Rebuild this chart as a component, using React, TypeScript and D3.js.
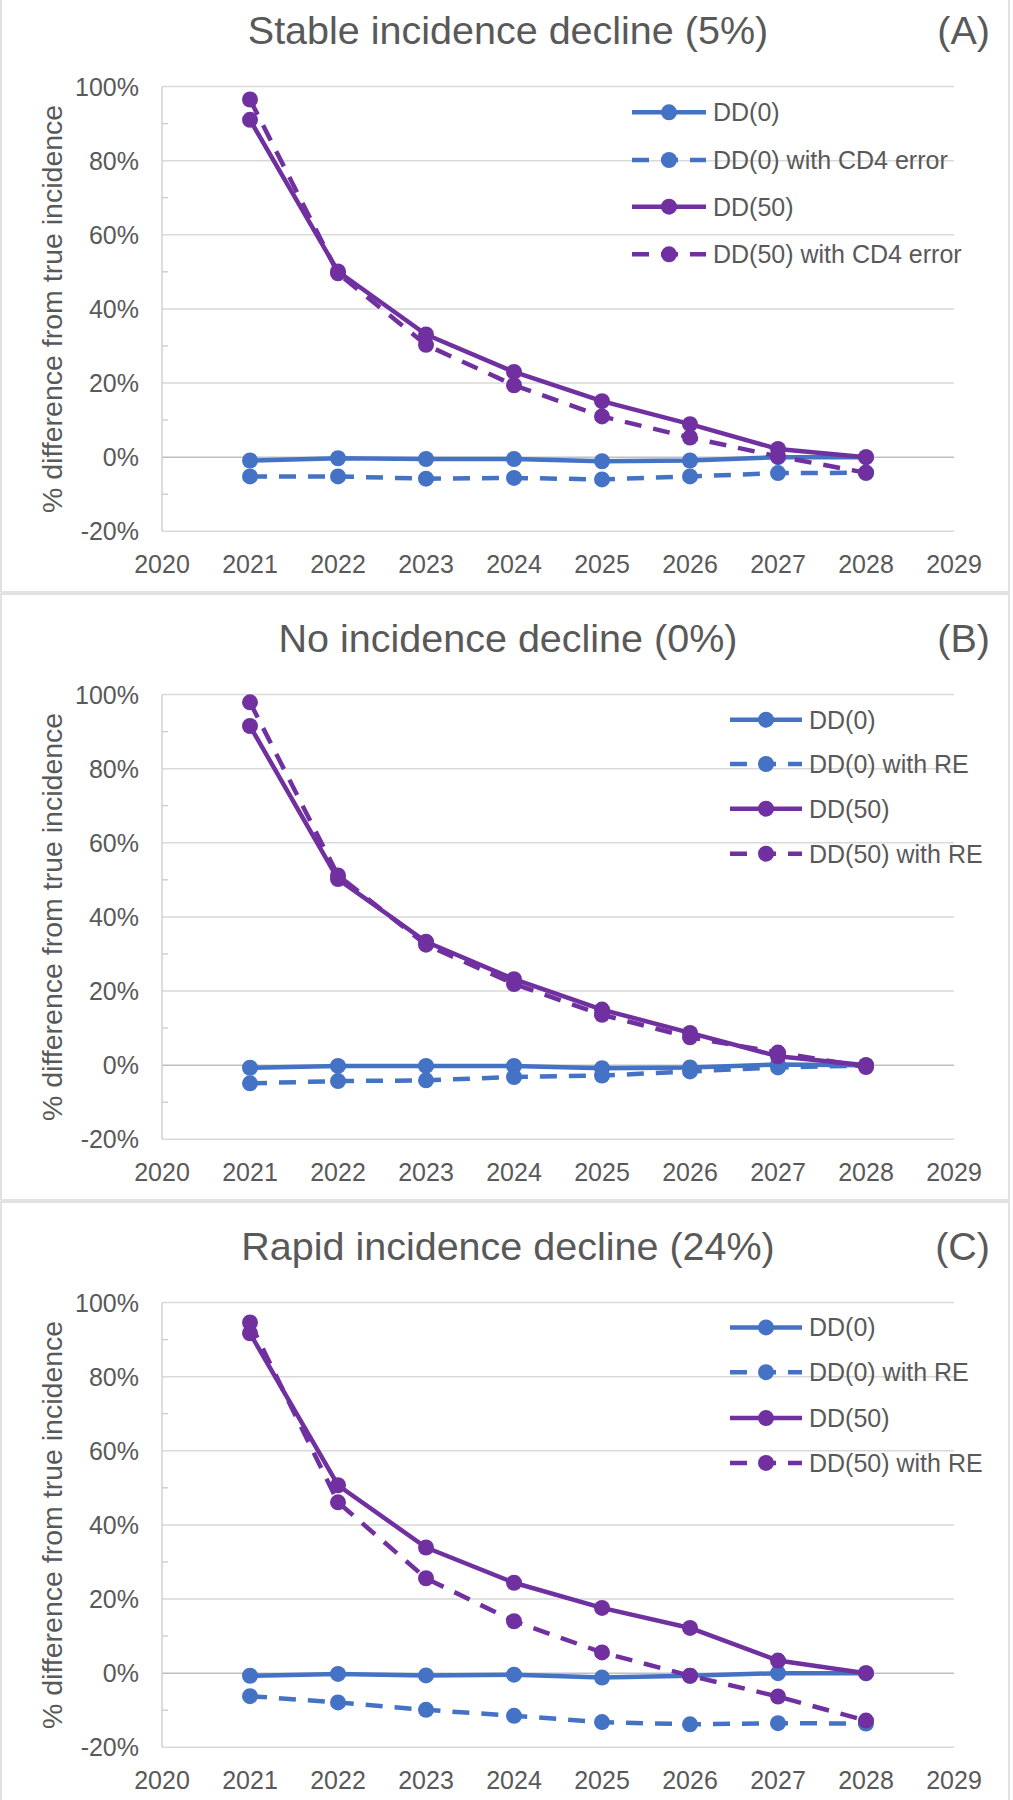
import React from "react";
import * as d3 from "d3";

const years = [2021, 2022, 2023, 2024, 2025, 2026, 2027, 2028];
const xTickYears = [2020, 2021, 2022, 2023, 2024, 2025, 2026, 2027, 2028, 2029];
const yMajorTicks = [-20, 0, 20, 40, 60, 80, 100];
const yMinorTicks = [-10, 10, 30, 50, 70, 90];

const panelTitles = [
  "Stable incidence decline (5%)",
  "No incidence decline (0%)",
  "Rapid incidence decline (24%)",
];
const panelLetters = ["(A)", "(B)", "(C)"];
const seriesNamesA = ["DD(0)", "DD(0) with CD4 error", "DD(50)", "DD(50) with CD4 error"];
const seriesNamesBC = ["DD(0)", "DD(0) with RE", "DD(50)", "DD(50) with RE"];
const yAxisTitle = "% difference from true incidence";

// Panel A
const aDD0 = [-0.9, -0.3, -0.5, -0.5, -1.1, -0.9, 0.0, 0.0];
const aDD0Err = [-5.2, -5.2, -5.8, -5.6, -6.0, -5.2, -4.3, -4.2];
const aDD50 = [91.0, 50.1, 33.1, 23.0, 15.1, 8.9, 2.2, 0.0];
const aDD50Err = [96.5, 49.6, 30.3, 19.4, 11.0, 5.3, 0.2, -4.2];

// Panel B
const bDD0 = [-0.7, -0.2, -0.2, -0.2, -0.8, -0.6, 0.2, 0.0];
const bDD0RE = [-4.9, -4.3, -4.1, -3.2, -2.8, -1.7, -0.6, -0.1];
const bDD50 = [91.5, 50.2, 33.3, 23.2, 15.0, 8.7, 2.4, 0.0];
const bDD50RE = [97.9, 51.2, 32.5, 21.9, 13.6, 7.5, 3.4, -0.5];

// Panel C
const cDD0 = [-0.7, -0.2, -0.6, -0.4, -1.2, -0.7, 0.0, 0.0];
const cDD0RE = [-6.2, -7.9, -9.9, -11.5, -13.2, -13.8, -13.5, -13.6];
const cDD50 = [91.7, 50.7, 33.9, 24.4, 17.6, 12.2, 3.4, 0.0];
const cDD50RE = [94.6, 46.1, 25.6, 14.0, 5.6, -0.7, -6.3, -12.8];

const BLUE = "#4472C4";
const PURPLE = "#7030A0";
const TEXT = "#595959";
const FONT = "'Liberation Sans', Arial, sans-serif";

const seriesStyles = [
  { color: BLUE, dashed: false },
  { color: BLUE, dashed: true },
  { color: PURPLE, dashed: false },
  { color: PURPLE, dashed: true },
];

const panels = [
  { y0: -14, names: seriesNamesA, data: [aDD0, aDD0Err, aDD50, aDD50Err], legendX: 632, legendY: [126.3, 174, 220.7, 268.3] },
  { y0: 594, names: seriesNamesBC, data: [bDD0, bDD0RE, bDD50, bDD50RE], legendX: 730, legendY: [125.7, 170, 214.7, 259.7] },
  { y0: 1202, names: seriesNamesBC, data: [cDD0, cDD0RE, cDD50, cDD50RE], legendX: 730, legendY: [125.4, 170.2, 216.1, 260.9] },
];

const PLOT_LEFT = 162;
const PLOT_RIGHT = 954;
const PLOT_TOP = 100.5;
const PLOT_BOTTOM = 545.3;
const DASH = "17 12";
const LINE_W = 4.5;
const R = 8;

function Panel({ idx }: { idx: number }) {
  const p = panels[idx];
  const x = d3.scaleLinear().domain([2020, 2029]).range([PLOT_LEFT, PLOT_RIGHT]);
  const y = d3.scaleLinear().domain([-20, 100]).range([PLOT_BOTTOM, PLOT_TOP]);
  const line = d3
    .line<number>()
    .x((_, i) => x(years[i]))
    .y((d) => y(d));
  const legendLen = p.legendX === 632 ? 74 : 72;
  return (
    <g transform={`translate(0,${p.y0})`}>
      <rect x={1} y={0} width={1008} height={606} fill="#fff" stroke="#d9d9d9" strokeWidth={1.5} />
      <text x={508} y={57.5} textAnchor="middle" fontSize={39.5} fill={TEXT} fontFamily={FONT}>
        {panelTitles[idx]}
      </text>
      <text x={990} y={58} textAnchor="end" fontSize={39.5} fill={TEXT} fontFamily={FONT}>
        {panelLetters[idx]}
      </text>
      {yMajorTicks.map((t) => (
        <line
          key={"g" + t}
          x1={PLOT_LEFT}
          x2={PLOT_RIGHT}
          y1={y(t)}
          y2={y(t)}
          stroke={t === 0 ? "#bfbfbf" : "#d9d9d9"}
          strokeWidth={1.5}
        />
      ))}
      <line x1={PLOT_LEFT} x2={PLOT_LEFT} y1={y(100)} y2={y(-20)} stroke="#d0d0d0" strokeWidth={1.5} />
      {yMinorTicks.map((t) => (
        <line key={"m" + t} x1={PLOT_LEFT} x2={PLOT_LEFT + 6} y1={y(t)} y2={y(t)} stroke="#d0d0d0" strokeWidth={1.5} />
      ))}
      {yMajorTicks.map((t) => (
        <text key={"yl" + t} x={139} y={y(t)} dy="0.36em" textAnchor="end" fontSize={25} fill={TEXT} fontFamily={FONT}>
          {`${t}%`}
        </text>
      ))}
      {xTickYears.map((yr) => (
        <text key={"xl" + yr} x={x(yr)} y={587} textAnchor="middle" fontSize={25} fill={TEXT} fontFamily={FONT}>
          {yr}
        </text>
      ))}
      <text
        transform={`translate(52,${(PLOT_TOP + PLOT_BOTTOM) / 2}) rotate(-90)`}
        textAnchor="middle"
        dy="0.36em"
        fontSize={28.5}
        fill={TEXT}
        fontFamily={FONT}
      >
        {yAxisTitle}
      </text>
      {p.data.map((vals, si) => (
        <g key={"s" + si}>
          <path
            d={line(vals) || ""}
            fill="none"
            stroke={seriesStyles[si].color}
            strokeWidth={LINE_W}
            strokeDasharray={seriesStyles[si].dashed ? DASH : undefined}
            strokeLinejoin="round"
          />
          {vals.map((v, i) => (
            <circle key={i} cx={x(years[i])} cy={y(v)} r={R} fill={seriesStyles[si].color} />
          ))}
        </g>
      ))}
      {p.names.map((name, si) => (
        <g key={"lg" + si} transform={`translate(${p.legendX},${p.legendY[si]})`}>
          <line
            x1={0}
            x2={legendLen}
            y1={0}
            y2={0}
            stroke={seriesStyles[si].color}
            strokeWidth={LINE_W}
            strokeDasharray={seriesStyles[si].dashed ? DASH : undefined}
          />
          <circle cx={legendLen / 2} cy={0} r={R} fill={seriesStyles[si].color} />
          <text x={legendLen + 7} y={0} dy="0.36em" fontSize={25} fill={TEXT} fontFamily={FONT}>
            {name}
          </text>
        </g>
      ))}
    </g>
  );
}

export default function App() {
  return (
    <svg
      width={1013}
      height={1800}
      style={{ position: "absolute", left: 0, top: 0, background: "#fff" }}
    >
      <rect x={0} y={0} width={1013} height={1800} fill="#fff" />
      {panels.map((_, i) => (
        <Panel key={i} idx={i} />
      ))}
    </svg>
  );
}
